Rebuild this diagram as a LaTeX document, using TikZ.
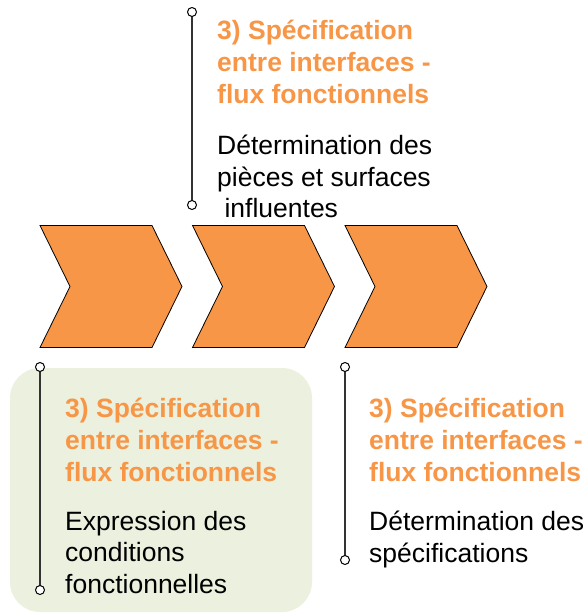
\documentclass[tikz,border=0pt]{standalone}
\usepackage{fontspec}
\setmainfont{Liberation Sans}
\usetikzlibrary{positioning}
\definecolor{chevorange}{HTML}{F79646}
\definecolor{boxgreen}{HTML}{EBF1DE}
\tikzset{
  chevron/.style={fill=chevorange, draw=black, line width=0.8pt, line join=miter},
  stem/.style={draw=black!80, line width=1.2pt},
  knob/.style={draw=black, fill=white, line width=1pt},
  title/.style={anchor=north west, inner sep=0pt, align=left, text=chevorange, font=\fontsize{26.5}{32}\selectfont\bfseries},
  body/.style={anchor=north west, inner sep=0pt, align=left, font=\fontsize{26.5}{31.5}\selectfont},
}
\begin{document}
\begin{tikzpicture}[x=1pt, y=-1pt]
	\useasboundingbox (0,0) rectangle (587,615);
	% panneau vert
	\fill[boxgreen, rounded corners=30pt] (10,368) rectangle (312,612);
	% chevrons
	\foreach \x/\n in {40/1, 192.5/2, 345/3}
		\draw[chevron] (\x,225.5) -- ++(112,0) -- ++(30,61) -- ++(-30,61) -- ++(-112,0) -- ++(30,-61) -- cycle;
	% tiges
	\coordinate (hauttop) at (192,12);
	\coordinate (hautbot) at (192,205);
	\coordinate (gtop) at (40,367);
	\coordinate (gbot) at (40,590);
	\coordinate (dtop) at (345,367);
	\coordinate (dbot) at (345,560);
	\draw[stem] (hauttop) -- (hautbot);
	\draw[stem] (gtop) -- (gbot);
	\draw[stem] (dtop) -- (dbot);
	\foreach \c in {hauttop, hautbot, gtop, gbot, dtop, dbot}
		\draw[knob] (\c) circle (4.5pt);
	% textes
	\node[title] (titreh) at (217,20) {3) Spécification\\entre interfaces -\\flux fonctionnels};
	\node[body] (corpsh) at (217,135) {Détermination des\\pièces et surfaces\\\ influentes};
	\node[title] (titreg) at (65,398) {3) Spécification\\entre interfaces -\\flux fonctionnels};
	\node[body] (corpsg) at (65,511) {Expression des\\conditions\\fonctionnelles};
	\node[title] (titred) at (369,398) {3) Spécification\\entre interfaces -\\flux fonctionnels};
	\node[body] (corpsd) at (369,511) {Détermination des\\spécifications};
\end{tikzpicture}
\end{document}
